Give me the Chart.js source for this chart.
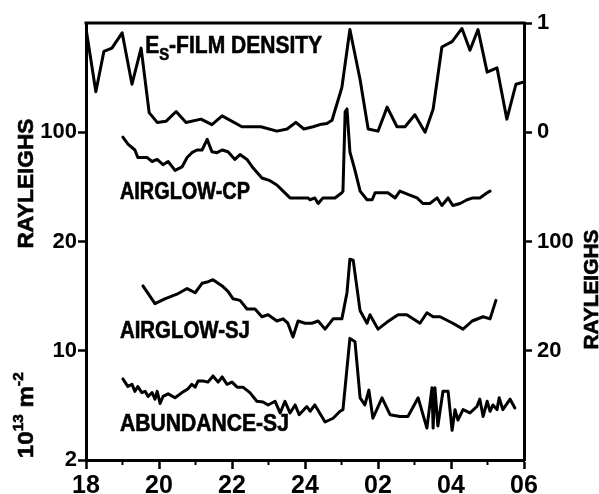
<!DOCTYPE html>
<html><head><meta charset="utf-8">
<script src="https://cdn.jsdelivr.net/npm/chart.js@4/dist/chart.umd.min.js"></script>
<style>html,body{margin:0;padding:0;background:#fff}#wrap{width:599px;height:494px;position:relative}</style>
</head><body><div id="wrap"><canvas id="c"></canvas></div>
<script>
// ---- Data (local time, hours; 24 = midnight, 26 = 02, ...) ----
const esHours = [18.0,18.27,18.49,18.71,18.99,19.26,19.51,19.73,19.95,20.19,20.47,20.74,21.15,21.45,21.73,22.27,22.79,23.23,23.51,23.75,23.97,24.22,24.41,24.6,24.74,25.01,25.23,25.51,25.73,26.0,26.25,26.52,26.74,27.01,27.29,27.51,27.75,28.03,28.3,28.52,28.74,28.99,29.26,29.53,29.78,30.0];
const esDensity = [0.95,0.37,0.74,0.77,0.91,0.44,0.77,0.18,0.09,0.1,0.19,0.09,0.12,0.07,0.15,0.05,0.05,0.01,0.03,0.09,0.03,0.05,0.07,0.08,0.11,0.41,0.94,0.48,0.03,0.01,0.23,0.05,0.05,0.16,0.0,0.21,0.78,0.83,0.95,0.75,0.94,0.55,0.59,0.12,0.44,0.46];

const cpHours = [19.01,19.15,19.34,19.42,19.67,19.81,19.95,20.11,20.25,20.44,20.63,20.77,20.9,21.04,21.18,21.32,21.45,21.59,21.73,21.89,22.08,22.22,22.41,22.58,22.82,23.04,23.23,23.4,23.59,23.78,23.95,24.08,24.14,24.27,24.36,24.49,24.68,24.82,25.01,25.04,25.1,25.15,25.23,25.37,25.51,25.7,25.84,25.92,26.11,26.27,26.47,26.6,26.82,27.07,27.23,27.42,27.62,27.75,27.92,28.05,28.25,28.44,28.6,28.79,28.99,29.07];
const cpRayleighs = [93,84,77,69,69,65,67,62,65,57,60,69,74,77,77,90,75,74,77,75,67,72,67,59,51,49,46,42,38,38,38,38,37,38,35,38,38,38,41,42,135,141,75,57,42,37,37,41,41,41,38,42,40,38,35,35,38,34,38,34,35,37,38,38,41,42];

const sjHours = [19.56,19.89,20.16,20.49,20.77,20.99,21.18,21.32,21.48,21.73,21.89,22.03,22.22,22.41,22.63,22.82,22.99,23.23,23.4,23.53,23.67,23.81,24.0,24.19,24.36,24.55,24.77,25.01,25.15,25.23,25.32,25.51,25.7,25.78,26.0,26.25,26.55,26.79,27.15,27.34,27.51,27.7,28.05,28.33,28.58,28.88,29.07,29.23];
const sjRayleighs = [52,40,43,46,50,47,54,55,57,52,48,43,42,37,37,33,34,31,32,30,24.5,31,30,30,31,27.5,32,32,47,77,76,36,30,34,27.5,30.5,34,34,30,35,33,33,30,27.5,31,33,32,42];

const abHours = [19.01,19.15,19.26,19.34,19.42,19.53,19.62,19.7,19.81,19.89,19.95,20.03,20.11,20.25,20.44,20.63,20.79,20.9,20.99,21.07,21.21,21.34,21.48,21.62,21.73,21.86,22.0,22.14,22.3,22.49,22.68,22.85,22.99,23.18,23.32,23.45,23.59,23.73,23.84,24.05,24.14,24.27,24.55,24.77,24.96,25.04,25.23,25.37,25.51,25.64,25.75,25.86,26.11,26.33,26.6,26.82,27.1,27.34,27.48,27.51,27.56,27.64,27.78,27.92,28.03,28.11,28.19,28.33,28.52,28.71,28.79,28.88,28.99,29.07,29.15,29.26,29.32,29.42,29.62,29.75];
const abAbundance = [6.6,5.9,6.1,5.5,5.9,5.4,5.5,5.1,5.4,4.9,5.5,4.6,5.1,5.3,5.0,5.4,5.7,6.1,5.85,6.4,6.4,6.3,6.9,6.3,6.8,6.1,6.3,5.85,5.85,5.4,4.75,4.7,4.5,4.75,4.0,4.75,4.0,4.5,3.9,4.4,4.1,4.5,3.5,3.7,4.1,4.2,12.0,11.4,5.0,4.5,5.6,3.7,5.0,3.9,3.8,3.8,5.0,3.2,5.8,3.2,5.8,3.3,5.5,5.5,3.1,4.2,3.6,4.2,4.0,4.4,4.9,3.8,4.75,4.1,4.5,4.2,5.0,4.2,4.9,4.3];

// ---- Axis tick labels ----
const xTickHours = [18,20,22,24,26,28,30];
const xTickLabels = ['18','20','22','24','02','04','06'];
const minorTickHours = [19,21,23,25,27,29];
const leftTickLabels = ['2','10','20','100',''];   // panel levels 0..4
const rightTickLabels = ['','20','100','0','1'];

// ---- Panel transforms (stacked panels on one vertical scale) ----
const log5 = v => Math.log(v) / Math.log(5);
const toLevel = {
  abundance: v => log5(v / 2),        // 2 .. 10  (x10^13 m^-2)
  airglowSJ: v => 1 + log5(v / 20),   // 20 .. 100 R (right axis)
  airglowCP: v => 2 + log5(v / 20),   // 20 .. 100 R (left axis)
  esDensity: v => 3 + v               // 0 .. 1 (right axis)
};
const mk = (hours, vals, f) => hours.map((h, i) => ({x: h, y: f(vals[i])}));

const FONT = "'Liberation Sans', Arial, sans-serif";

const labelPlugin = {
  id: 'labels',
  afterDraw(chart) {
    const {ctx, chartArea: a, scales} = chart;
    const x = scales.x, y = scales.yL;
    ctx.save();
    ctx.fillStyle = '#000';
    ctx.strokeStyle = '#000';
    // top frame line
    ctx.lineWidth = 3;
    ctx.beginPath(); ctx.moveTo(a.left - 1.5, a.top); ctx.lineTo(a.right + 1.5, a.top); ctx.stroke();
    // minor ticks on time axis
    ctx.lineWidth = 2;
    minorTickHours.forEach(h => {
      const px = x.getPixelForValue(h);
      ctx.beginPath(); ctx.moveTo(px, a.bottom); ctx.lineTo(px, a.bottom + 5); ctx.stroke();
    });

    // helper: draw a run of text segments, horizontally scaled to a given width
    function runs(segs, px, py, width, rot) {
      ctx.save();
      ctx.translate(px, py);
      if (rot) ctx.rotate(rot);
      let total = 0;
      segs.forEach(s => { ctx.font = s.font; s.w = ctx.measureText(s.t).width; total += s.w; });
      const sx = width ? width / total : 1;
      ctx.scale(sx, 1);
      ctx.textBaseline = 'alphabetic';
      ctx.textAlign = 'left';
      ctx.lineWidth = 0.6;
      let cx = 0;
      segs.forEach(s => { ctx.font = s.font; ctx.fillText(s.t, cx, s.dy || 0); ctx.strokeText(s.t, cx, s.dy || 0); cx += s.w; });
      ctx.restore();
      return total * sx;
    }
    const big = 'bold 23px ' + FONT;
    // series labels
    runs([{t: 'E', font: 'bold 24px ' + FONT}, {t: 'S', font: 'bold 17px ' + FONT, dy: 7}, {t: '-FILM DENSITY', font: 'bold 24px ' + FONT}],
      x.getPixelForValue(19.62), y.getPixelForValue(3.725), 177);
    runs([{t: 'AIRGLOW-CP', font: big}], x.getPixelForValue(18.93), y.getPixelForValue(2.39), 130);
    runs([{t: 'AIRGLOW-SJ', font: big}], x.getPixelForValue(18.93), y.getPixelForValue(1.115), 130);
    runs([{t: 'ABUNDANCE-SJ', font: big}], x.getPixelForValue(18.93), y.getPixelForValue(0.265), 169);

    // axis titles (rotated)
    const rot = -Math.PI / 2;
    runs([{t: 'RAYLEIGHS', font: 'bold 22px ' + FONT}], 33, y.getPixelForValue(2.53) + 65, 130, rot);
    runs([{t: 'RAYLEIGHS', font: 'bold 21px ' + FONT}], 598, y.getPixelForValue(1.56) + 60, 120, rot);

    // 10^13 m^-2
    const segs = [
      {t: '10', font: 'bold 22px ' + FONT},
      {t: '13', font: 'bold 14px ' + FONT, dy: -10},
      {t: ' m', font: 'bold 22px ' + FONT},
      {t: '-2', font: 'bold 14px ' + FONT, dy: -10}
    ];
    runs(segs, 33, y.getPixelForValue(0.41) + 43, 86, rot);
    ctx.restore();
  }
};

const lineDs = (data) => ({data, yAxisID: 'yL', borderColor: '#000', borderWidth: 3, pointRadius: 0, tension: 0, fill: false, borderJoinStyle: 'round', borderCapStyle: 'round'});

new Chart(document.getElementById('c'), {
  type: 'line',
  data: {
    datasets: [
      lineDs(mk(esHours, esDensity, toLevel.esDensity)),
      lineDs(mk(cpHours, cpRayleighs, toLevel.airglowCP)),
      lineDs(mk(sjHours, sjRayleighs, toLevel.airglowSJ)),
      lineDs(mk(abHours, abAbundance, toLevel.abundance))
    ]
  },
  options: {
    responsive: true, maintainAspectRatio: false, animation: false,
    layout: {padding: {top: 23, left: 0, right: 0, bottom: 0}},
    plugins: {legend: {display: false}, tooltip: {enabled: false}},
    scales: {
      x: {
        type: 'linear', min: 18, max: 30, position: 'bottom',
        afterBuildTicks: s => { s.ticks = []; for (let h = 18; h <= 30; h++) s.ticks.push({value: h}); },
        ticks: {autoSkip: false, maxRotation: 0, padding: 2, color: '#000',
          font: {family: FONT, size: 25, weight: 'bold'},
          callback: v => { const i = xTickHours.indexOf(v); return i >= 0 ? xTickLabels[i] : ''; }},
        grid: {display: true, drawOnChartArea: false, drawTicks: true, tickLength: 9, tickWidth: 2.5,
          tickColor: c => (c.tick && xTickHours.includes(c.tick.value)) ? '#000' : 'rgba(0,0,0,0)'},
        border: {display: true, color: '#000', width: 3},
        afterFit: s => { s.height = 34; s.paddingLeft = 0; s.paddingRight = 0; }
      },
      yL: {
        type: 'linear', position: 'left', min: 0, max: 4,
        afterBuildTicks: s => { s.ticks = [0,1,2,3,4].map(v => ({value: v})); },
        ticks: {padding: 1, color: '#000', font: {family: FONT, size: 22, weight: 'bold'},
          callback: v => leftTickLabels[Math.round(v)]},
        grid: {display: true, drawOnChartArea: false, drawTicks: true, tickLength: 8, tickWidth: 2.5,
          tickColor: c => (c.tick && c.tick.value === 4) ? 'rgba(0,0,0,0)' : '#000'},
        border: {display: true, color: '#000', width: 3},
        afterFit: s => { s.width = 86; s.paddingTop = 0; s.paddingBottom = 0; }
      },
      yR: {
        type: 'linear', position: 'right', min: 0, max: 4,
        afterBuildTicks: s => { s.ticks = [0,1,2,3,4].map(v => ({value: v})); },
        ticks: {padding: 5, color: '#000', font: {family: FONT, size: 22, weight: 'bold'},
          callback: v => rightTickLabels[Math.round(v)]},
        grid: {display: true, drawOnChartArea: false, drawTicks: true, tickLength: 8, tickWidth: 2.5,
          tickColor: c => (c.tick && c.tick.value === 0) ? 'rgba(0,0,0,0)' : '#000'},
        border: {display: true, color: '#000', width: 3},
        afterFit: s => { s.width = 75; s.paddingTop = 0; s.paddingBottom = 0; }
      }
    }
  },
  plugins: [labelPlugin]
});
</script></body></html>
